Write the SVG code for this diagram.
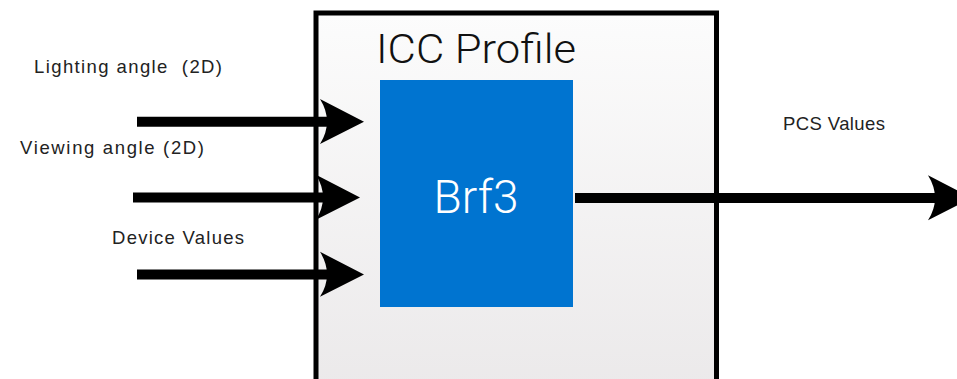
<svg xmlns="http://www.w3.org/2000/svg" width="957" height="379" viewBox="0 0 957 379">
  <defs>
    <linearGradient id="profileFill" x1="0" y1="0" x2="0" y2="1">
      <stop offset="0" stop-color="#fcfcfc"/>
      <stop offset="1" stop-color="#eae8e9"/>
    </linearGradient>
    <!-- concave-backed arrowhead, tip at origin pointing right -->
    <path id="head" d="M0,0 L-44,-22.7 Q-30,0 -44,22.3 Z"/>
  </defs>
  <style>
    .label { font-family: "Liberation Sans", Arial, sans-serif; font-size: 18.5px; fill: #222; white-space: pre; }
    .shaft { stroke: #000; stroke-width: 10; fill: none; }
    .head { fill: #000; }
  </style>

  <rect width="957" height="379" fill="#fff"/>

  <!-- ICC profile container -->
  <g id="icc-profile">
    <rect x="316" y="13" width="400.5" height="400" fill="url(#profileFill)" stroke="#000" stroke-width="5"/>
    <text x="376" y="63" font-family="Roboto, 'Liberation Sans', Arial, sans-serif" font-weight="300" font-size="41" fill="#111" textLength="200" lengthAdjust="spacingAndGlyphs">ICC Profile</text>
  </g>

  <!-- Brf3 transform block -->
  <g id="brf3">
    <rect x="380" y="80" width="193" height="227" fill="#0074d0"/>
    <text x="476" y="213" text-anchor="middle" font-family="Roboto, 'Liberation Sans', Arial, sans-serif" font-weight="300" font-size="46" fill="#fff">Brf3</text>
  </g>

  <!-- input / output labels -->
  <g id="labels">
    <text class="label" x="34" y="73" textLength="188" lengthAdjust="spacing">Lighting angle  (2D)</text>
    <text class="label" x="20" y="153.5" textLength="184" lengthAdjust="spacing">Viewing angle (2D)</text>
    <text class="label" x="112" y="244" textLength="132" lengthAdjust="spacing">Device Values</text>
    <text class="label" x="783" y="130" textLength="102" lengthAdjust="spacing">PCS Values</text>
  </g>

  <!-- connectors -->
  <g id="connectors">
    <line class="shaft" x1="137" y1="121.7" x2="330" y2="121.7"/>
    <use href="#head" class="head" transform="translate(364,121.7)"/>

    <line class="shaft" x1="133" y1="197.5" x2="326" y2="197.5"/>
    <use href="#head" class="head" transform="translate(360,197.5)"/>

    <line class="shaft" x1="137" y1="274.5" x2="330" y2="274.5"/>
    <use href="#head" class="head" transform="translate(364,274.5)"/>

    <line class="shaft" x1="575" y1="198" x2="940" y2="198"/>
    <use href="#head" class="head" transform="translate(972,198)"/>
  </g>
</svg>
